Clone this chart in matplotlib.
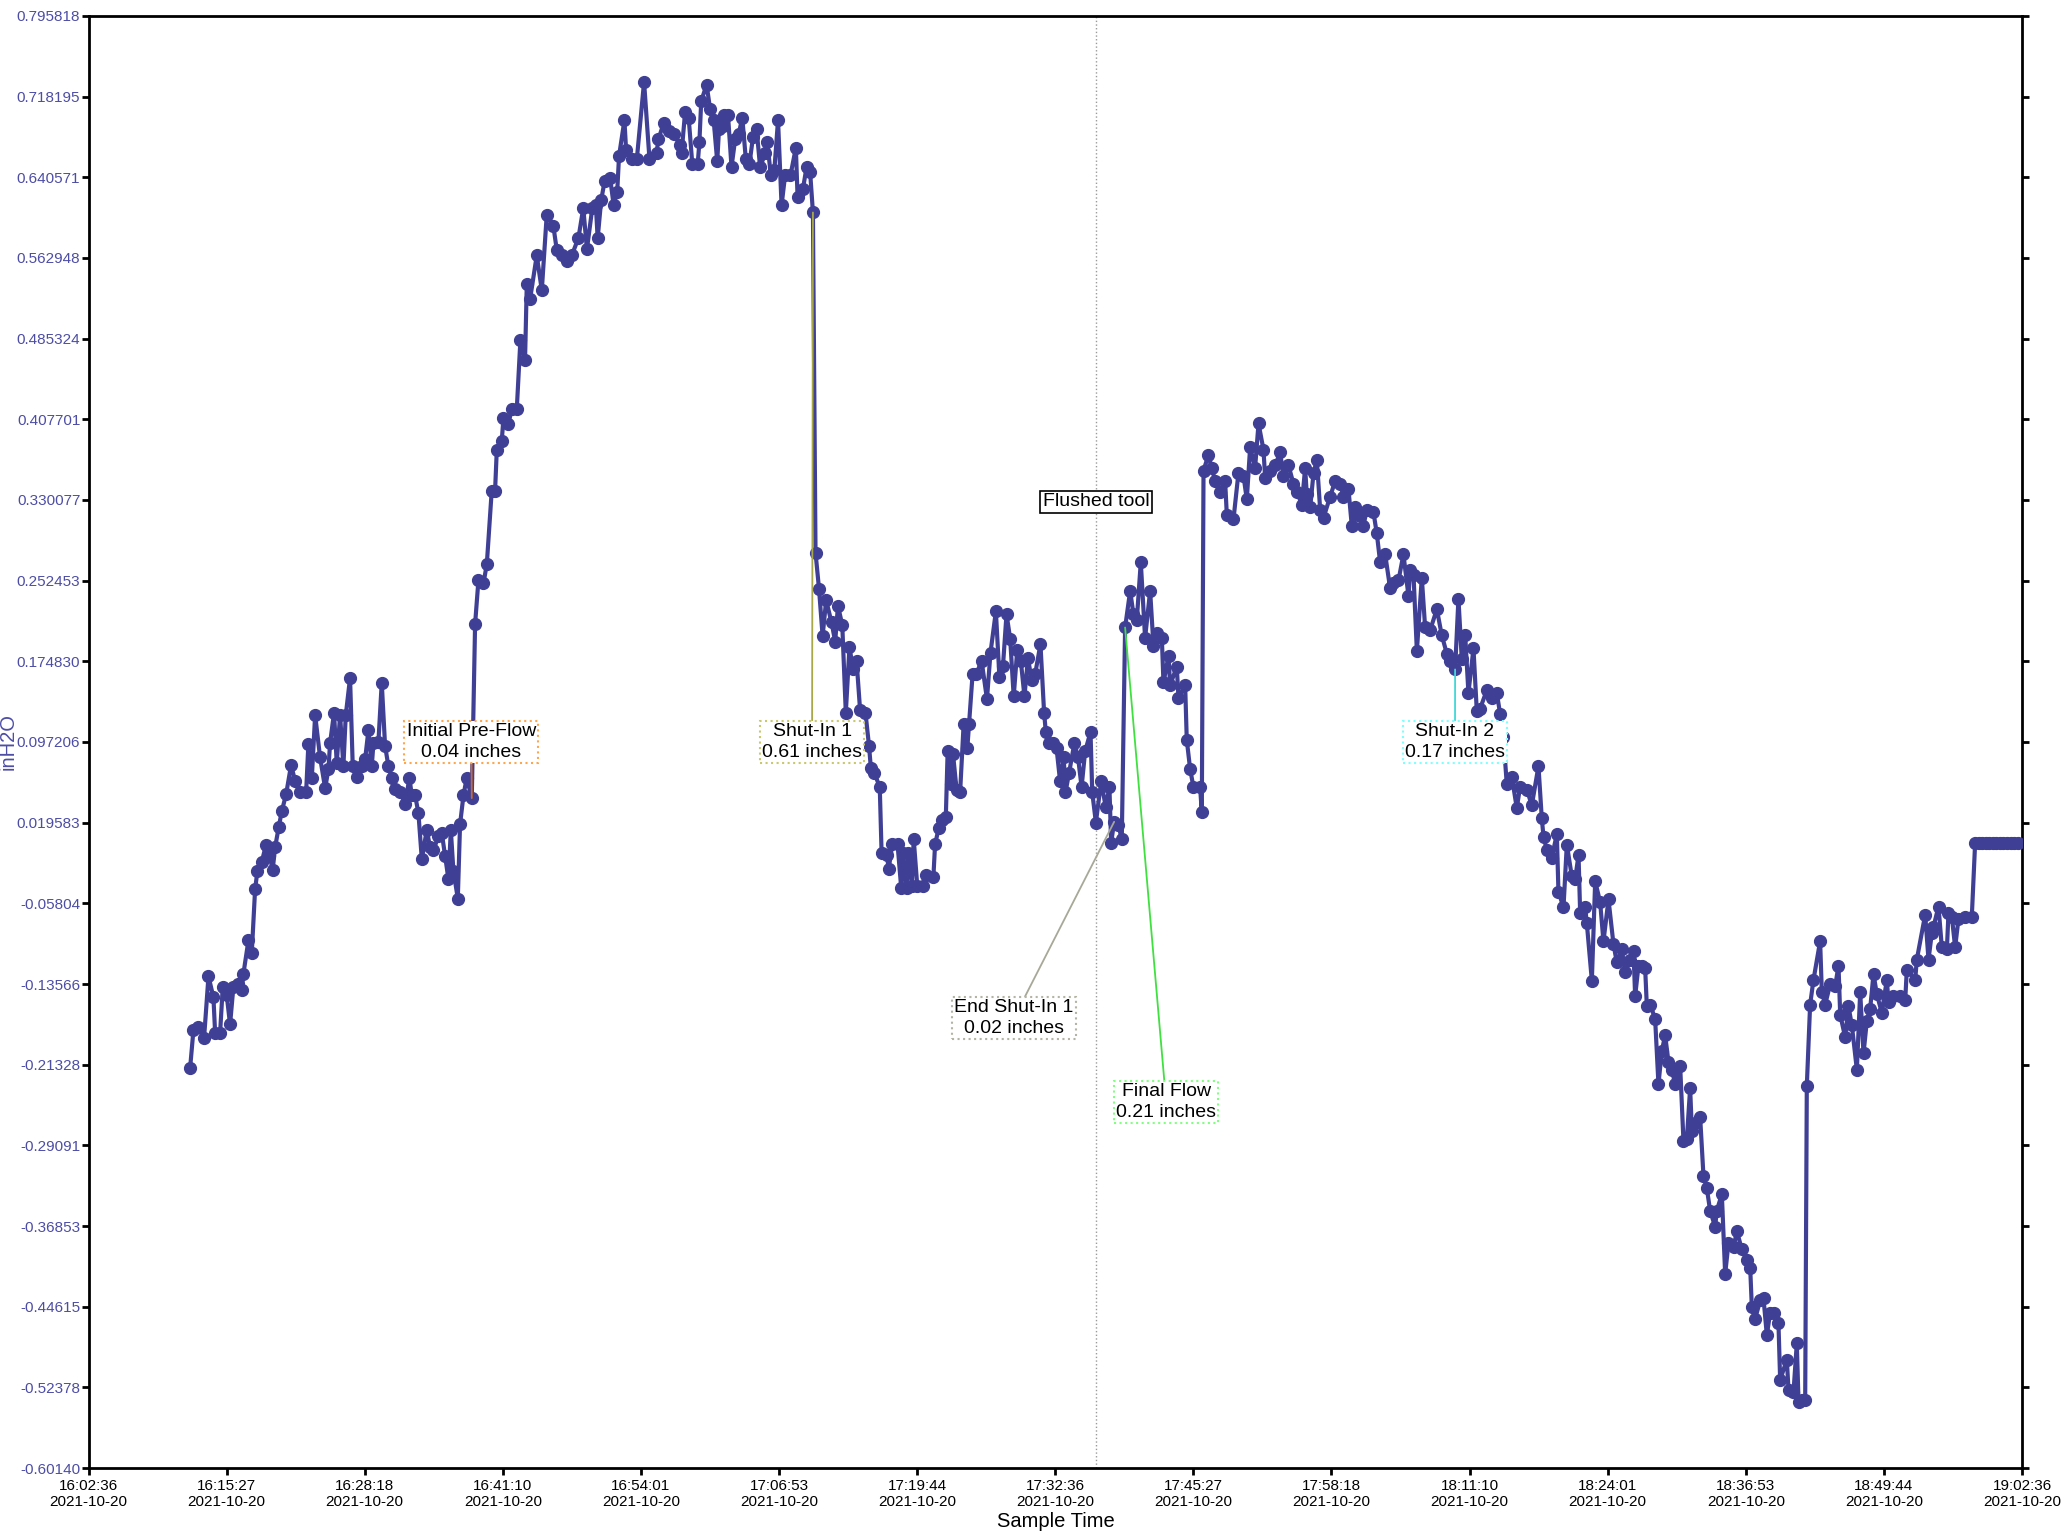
import numpy as np
import pandas as pd
import matplotlib
matplotlib.use("Agg")
import matplotlib.pyplot as plt

plt.rcParams['font.family'] = ['Liberation Sans', 'DejaVu Sans']

#sample times (minutes after 16:02:36) and readings in inH2O
start = pd.Timestamp("2021-10-20 16:02:36")
end = pd.Timestamp("2021-10-20 19:02:36")

elapsed_min = [
    # pre-flow
    9.45, 9.76, 10.22, 10.75, 11.16, 11.62, 11.78, 12.24, 12.49, 12.86,
    13.17, 13.48, 13.95, 14.26, 14.41, 14.88, 15.19, 15.50, 15.72, 16.12,
    16.52, 16.84, 17.14, 17.36, 17.70, 17.98, 18.39, 18.85, 19.22, 19.69,
    20.25, 20.46, 20.78, 21.09, 21.55, 22.02, 22.33, 22.48, 22.85, 23.10,
    23.41, 23.72, 23.94, 24.34, 24.59, 24.96, 25.43, 25.74, 26.05, 26.36,
    26.52, 26.98, 27.29, 27.60, 27.91, 28.22, 28.53, 29.00, 29.46, 29.87,
    30.08, 30.39, 30.70, 31.02, 31.48, 31.79, 32.10, 32.57, 32.88, 33.19,
    33.50, 33.72, 33.96, 34.37, 34.58, 34.90, 35.20, 35.67, 35.98, 36.29,
    36.76, 37.07, 37.53, 37.84, 38.00, 38.46, 38.62, 39.08, 39.39, 39.86,
    40.20, 40.63, 40.79, 41.10, 41.72, 42.19, 42.65, 43.27, 43.58, 44.05,
    44.51, 44.98, 45.60,
    # flow / shut-in 1
    46.05, 46.39, 46.89, 47.22, 47.39, 47.72, 48.05, 48.55, 48.88, 49.21,
    49.38, 49.88, 50.04, 50.54, 51.04, 51.71, 52.21, 52.87, 53.04, 53.54,
    54.03, 54.53, 55.03, 55.20, 55.53, 55.86, 56.20, 56.70, 56.86, 57.03,
    57.53, 57.86, 58.19, 58.52, 58.69, 59.02, 59.19, 59.52, 59.85, 60.19,
    60.52, 60.85, 61.18, 61.52, 61.85, 62.18, 62.51, 63.01, 63.18, 63.51,
    63.84, 64.18, 64.51, 64.84, 65.34, 65.84, 66.00, 66.50, 66.84, 67.17,
    67.43, 67.67, 68.00, 68.33, 68.66, 69.16, 69.50, 69.76, 70.16, 70.49,
    70.83, 71.16, 71.49, 71.82, 72.32, 72.65, 72.82, 73.15, 73.65, 73.82,
    74.32, 74.48, 74.81, 75.31, 75.65, 75.81, 76.14, 76.31, 76.64, 76.81,
    77.14, 77.64, 77.97, 78.64, 78.80, 79.14, 79.47, 79.80, 79.97, 80.30,
    80.47, 80.80, 81.13, 81.46, 81.80, 81.96, 82.29, 82.63, 83.13, 83.63,
    83.96, 84.46, 84.79, 85.12, 85.45, 85.79, 86.12, 86.45, 86.78, 87.12,
    87.45, 87.78, 88.11, 88.61, 88.95, 89.11, 89.45, 89.78, 90.11, 90.44,
    90.77, 90.94, 91.27, 91.77, 92.10, 92.44, 92.77, 93.27, 93.43, 93.77,
    94.26, 94.69, 95.03, 95.19, 95.47, 95.87, 96.18,
    # final flow / shut-in 2
    96.49, 96.96, 97.27, 97.58, 97.95, 98.35, 98.82, 99.13, 99.44, 99.91,
    100.06, 100.53, 100.68, 101.30, 101.46, 102.08, 102.23, 102.54, 102.85, 103.47,
    103.63, 103.79, 104.25, 104.56, 104.87, 105.34, 105.80, 105.96, 106.58, 107.04,
    107.51, 107.82, 108.13, 108.59, 108.91, 109.37, 109.53, 109.99, 110.46, 110.92,
    111.23, 111.70, 112.16, 112.47, 112.94, 113.25, 113.40, 113.72, 114.03, 114.34,
    114.65, 114.96, 115.58, 116.04, 116.51, 116.82, 117.28, 117.59, 117.90, 118.21,
    118.68, 118.99, 119.61, 119.92, 120.23, 120.70, 121.16, 121.47, 121.94, 122.40,
    122.87, 123.03, 123.34, 123.65, 124.11, 124.42, 124.89, 125.51, 125.97, 126.44,
    126.75, 127.21, 127.52, 127.83, 128.15, 128.45, 128.92, 129.23, 129.54, 130.16,
    130.63, 131.09, 131.40, 131.71, 132.02, 132.49, 132.95, 133.26, 133.89, 134.35,
    134.97, 135.28, 135.44, 135.75, 136.21, 136.68, 136.83, 137.30, 137.61, 138.07,
    138.39, 138.70, 138.85, 139.32, 139.47, 139.94, 140.25, 140.71, 141.02, 141.49,
    141.95, 142.26,
    142.73, 143.04, 143.51, 143.82, 143.97, 144.28, 144.59, 144.90, 145.06, 145.37,
    145.83, 146.14, 146.45, 146.76, 147.07, 147.38, 147.70, 148.16, 148.47, 148.78,
    149.09, 149.25, 149.56, 150.02, 150.33, 150.64, 150.95, 151.42, 151.57, 152.04,
    152.35, 152.66, 153.13, 153.44, 153.90, 154.37, 154.68, 154.83, 155.14, 155.61,
    155.92, 156.23, 156.54, 156.85, 157.31, 157.47, 158.09, 158.25, 158.71, 159.02,
    159.18, 159.49, 159.80, 159.95, 160.26, 160.57, 161.19, 161.35, 161.66, 162.13,
    162.59, 162.90, 163.06, 163.52, 163.83, 164.14, 164.61, 164.92, 165.23, 165.54,
    165.85, 166.16, 166.47, 166.93, 167.40, 167.56, 168.02, 168.64, 169.11, 169.26,
    170.04, 170.19, 170.97, 171.28, 171.59, 171.74, 172.21, 172.52, 172.99, 173.14,
    173.45, 173.76, 174.07, 174.69, 175.31, 175.62, 175.95, 176.28, 176.61, 176.94,
    177.27, 177.60, 177.93, 178.26, 178.59, 178.92, 179.25, 179.58,
]

inh2o = [
    -0.2165, -0.1800, -0.1774, -0.1875, -0.1283, -0.1484, -0.1830, -0.1830, -0.1383, -0.1467,
    -0.1746, -0.1383, -0.1355, -0.1411, -0.1260, -0.0936, -0.1059, -0.0445, -0.0266, -0.0182,
    -0.0015, -0.0126, -0.0255, -0.0042, 0.0153, 0.0304, 0.0471, 0.0750, 0.0600, 0.0488,
    0.0488, 0.0952, 0.0627, 0.1231, 0.0823, 0.0527, 0.0711, 0.0963, 0.1253, 0.0767,
    0.1231, 0.0739, 0.1231, 0.1588, 0.0739, 0.0639, 0.0739, 0.0806, 0.1085, 0.0739,
    0.0963, 0.0974, 0.1543, 0.0935, 0.0739, 0.0627, 0.0516, 0.0488, 0.0376, 0.0627,
    0.0460, 0.0460, 0.0292, -0.0155, 0.0125, -0.0042, -0.0071, 0.0069, 0.0097, -0.0126,
    -0.0350, 0.0125, -0.0266, -0.0534, 0.0181, 0.0460, 0.0627, 0.0432, 0.2108, 0.2527,
    0.2499, 0.2683, 0.3392, 0.3392, 0.3783, 0.3867, 0.4090, 0.4034, 0.4174, 0.4174,
    0.4844, 0.4649, 0.5375, 0.5235, 0.5654, 0.5319, 0.6045, 0.5933, 0.5710, 0.5654,
    0.5598, 0.5654, 0.5822,
    0.6110, 0.5714, 0.6110, 0.6136, 0.5819, 0.6189, 0.6374, 0.6400, 0.6136, 0.6268,
    0.6611, 0.6954, 0.6664, 0.6585, 0.6585, 0.7324, 0.6585, 0.6638, 0.6770, 0.6928,
    0.6849, 0.6822, 0.6717, 0.6638, 0.7034, 0.6981, 0.6532, 0.6532, 0.6743, 0.7139,
    0.7297, 0.7060, 0.6954, 0.6558, 0.6875, 0.6902, 0.7007, 0.7007, 0.6506, 0.6770,
    0.6822, 0.6981, 0.6585, 0.6532, 0.6796, 0.6875, 0.6506, 0.6638, 0.6743, 0.6426,
    0.6479, 0.6954, 0.6136, 0.6426, 0.6426, 0.6690, 0.6215, 0.6294, 0.6506, 0.6453,
    0.6067, 0.2795, 0.2441, 0.1992, 0.2335, 0.2124, 0.1939, 0.2282, 0.2098, 0.1253,
    0.1886, 0.1675, 0.1754, 0.1279, 0.1253, 0.0936, 0.0725, 0.0672, 0.0540, -0.0093,
    -0.0120, -0.0251, -0.0014, -0.0014, -0.0436, -0.0093, -0.0436, -0.0093, -0.0410, 0.0039,
    -0.0410, -0.0410, -0.0304, -0.0331, -0.0014, 0.0145, 0.0224, 0.0250, 0.0883, 0.0567,
    0.0857, 0.0514, 0.0487, 0.1147, 0.0910, 0.1147, 0.1622, 0.1622, 0.1754, 0.1385,
    0.1833, 0.2229, 0.1596, 0.1702, 0.2203, 0.1966, 0.1411, 0.1860, 0.1754, 0.1411,
    0.1781, 0.1570, 0.1622, 0.1913, 0.1253, 0.1068, 0.0963, 0.0963, 0.0910, 0.0593,
    0.0831, 0.0487, 0.0672, 0.0963, 0.0831, 0.0540, 0.0883, 0.1068, 0.0487, 0.0197,
    0.0594, 0.0345, 0.0538, 0.0002, 0.0204, 0.0173, 0.0036,
    0.2074, 0.2426, 0.2200, 0.2149, 0.2703, 0.1973, 0.2426, 0.1898, 0.2023, 0.1973,
    0.1545, 0.1797, 0.1520, 0.1696, 0.1394, 0.1520, 0.0992, 0.0715, 0.0539, 0.0539,
    0.0297, 0.3584, 0.3735, 0.3609, 0.3483, 0.3382, 0.3483, 0.3156, 0.3116, 0.3559,
    0.3533, 0.3307, 0.3810, 0.3609, 0.4037, 0.3785, 0.3508, 0.3584, 0.3634, 0.3760,
    0.3533, 0.3634, 0.3458, 0.3382, 0.3257, 0.3609, 0.3357, 0.3231, 0.3559, 0.3684,
    0.3206, 0.3131, 0.3332, 0.3483, 0.3458, 0.3332, 0.3408, 0.3055, 0.3231, 0.3156,
    0.3055, 0.3206, 0.3181, 0.2980, 0.2703, 0.2778, 0.2451, 0.2502, 0.2527, 0.2778,
    0.2376, 0.2627, 0.2577, 0.1847, 0.2552, 0.2074, 0.2049, 0.2250, 0.1998, 0.1822,
    0.1747, 0.1670, 0.2351, 0.1772, 0.1998, 0.1445, 0.1872, 0.1268, 0.1294, 0.1470,
    0.1394, 0.1445, 0.1243, 0.1017, 0.0564, 0.0639, 0.0337, 0.0539, 0.0514, 0.0363,
    0.0740, 0.0237, 0.0061, -0.0065, -0.0141, 0.0086, -0.0468, -0.0619, -0.0015, -0.0317,
    -0.0342, -0.0116, -0.0669, -0.0619, -0.0770, -0.1324, -0.0367, -0.0569, -0.0946, -0.0543,
    -0.0971, -0.1147,
    -0.1024, -0.1240, -0.1122, -0.1043, -0.1475, -0.1181, -0.1181, -0.1200, -0.1573, -0.1554,
    -0.1691, -0.2320, -0.2005, -0.1848, -0.2104, -0.2182, -0.2320, -0.2143, -0.2870, -0.2850,
    -0.2359, -0.2771, -0.2693, -0.2634, -0.3203, -0.3321, -0.3537, -0.3694, -0.3537, -0.3380,
    -0.4146, -0.3851, -0.3891, -0.3734, -0.3910, -0.4009, -0.4087, -0.4460, -0.4578, -0.4401,
    -0.4382, -0.4735, -0.4519, -0.4519, -0.4617, -0.5167, -0.4971, -0.5266, -0.5285, -0.4814,
    -0.5383, -0.5364, -0.5364, -0.2339, -0.1554, -0.1318, -0.0945, -0.1436, -0.1554, -0.1357,
    -0.1377, -0.1181, -0.1652, -0.1868, -0.1573, -0.1750, -0.2182, -0.1436, -0.2025, -0.1711,
    -0.1593, -0.1259, -0.1456, -0.1632, -0.1318, -0.1534, -0.1475, -0.1475, -0.1514, -0.1220,
    -0.1318, -0.1122, -0.0690, -0.1122, -0.0866, -0.0807, -0.0611, -0.1004, -0.1024, -0.0670,
    -0.0709, -0.1004, -0.0729, -0.0709, -0.0709, 0.0000, 0.0000, 0.0000, 0.0000, 0.0000,
    0.0000, 0.0000, 0.0000, 0.0000, 0.0000, 0.0000, 0.0000, 0.0000,
]

xtick_labels = ["16:02:36", "16:15:27", "16:28:18", "16:41:10", "16:54:01",
                "17:06:53", "17:19:44", "17:32:36", "17:45:27", "17:58:18",
                "18:11:10", "18:24:01", "18:36:53", "18:49:44", "19:02:36"]
ytick_labels = ["-0.60140", "-0.52378", "-0.44615", "-0.36853", "-0.29091",
                "-0.21328", "-0.13566", "-0.05804", "0.019583", "0.097206",
                "0.174830", "0.252453", "0.330077", "0.407701", "0.485324",
                "0.562948", "0.640571", "0.718195", "0.795818"]

#events: name, time of the marked sample, box position (minutes, inH2O)
event_names = ["Initial Pre-Flow", "Shut-In 1", "End Shut-In 1", "Final Flow", "Shut-In 2"]
event_min = [35.67, 67.43, 95.47, 96.49, 127.21]
flush_min = 93.79

box_pos = [(35.64, 0.0972), (67.35, 0.0972), (86.15, -0.1684), (100.31, -0.2492), (127.2, 0.0972)]
box_edge = ["#ffa64d", "#c8c86e", "#b4b4a4", "#80ff80", "#80ffff"]
line_col = ["#d2691e", "#a8a848", "#a8a898", "#40e040", "#40d8d8"]

BLUE = "#3f3f96"
TICKBLUE = "#4d4da6"

def to_time(m):
    return start + pd.to_timedelta(m, unit="min")

def main():
    times = to_time(np.array(elapsed_min))
    vals = np.array(inh2o)

    fig = plt.figure(figsize=(20.7, 15.34), dpi=100)
    ax = fig.add_axes([0.0428, 0.0430, 0.9341, 0.9466])

    ax.plot(times, vals, color=BLUE, lw=3, marker="o", ms=8.5, zorder=3)

    #flushed tool marker
    ft = to_time(flush_min)
    ax.axvline(ft, color="#9a9a9a", ls=":", lw=1, zorder=1)
    ax.text(ft, 0.3282, "Flushed tool", ha="center", va="center", fontsize=14,
            bbox=dict(boxstyle="square,pad=0.14", fc="white", ec="black", lw=1.2), zorder=5)

    for i in range(len(event_names)):
        k = int(np.argmin(np.abs(np.array(elapsed_min) - event_min[i])))
        v = vals[k]
        ax.annotate(f"{event_names[i]}\n{v:.2f} inches",
                    xy=(times[k], v), xytext=(to_time(box_pos[i][0]), box_pos[i][1]),
                    ha="center", va="center", fontsize=14, linespacing=1.25,
                    bbox=dict(boxstyle="square,pad=0.12", fc="white", ec=box_edge[i], lw=1.5, ls=":"),
                    arrowprops=dict(arrowstyle="-", color=line_col[i], lw=1.3, shrinkA=0, shrinkB=0),
                    zorder=5)

    ax.set_xlim(start, end)
    ax.set_xticks([pd.Timestamp("2021-10-20 " + s) for s in xtick_labels])
    ax.set_xticklabels([s + "\n2021-10-20" for s in xtick_labels], fontsize=11)

    ax.set_ylim(float(ytick_labels[0]), float(ytick_labels[-1]))
    ax.set_yticks([float(s) for s in ytick_labels])
    ax.set_yticklabels(ytick_labels, fontsize=11, color=TICKBLUE)

    ax.tick_params(axis="y", direction="out", length=5, width=2, left=True, right=True, pad=1)
    ax.tick_params(axis="x", direction="out", length=5, width=2, top=False, pad=3)
    for s in ax.spines.values():
        s.set_linewidth(2)
        s.set_color("black")

    ax.set_xlabel("Sample Time", fontsize=14.5, labelpad=2)
    ax.set_ylabel("inH2O", fontsize=14.5, color=TICKBLUE)
    ax.yaxis.set_label_coords(-0.0365, 0.5)

    fig.savefig("out.png", dpi=100)

if __name__ == "__main__":
    main()
